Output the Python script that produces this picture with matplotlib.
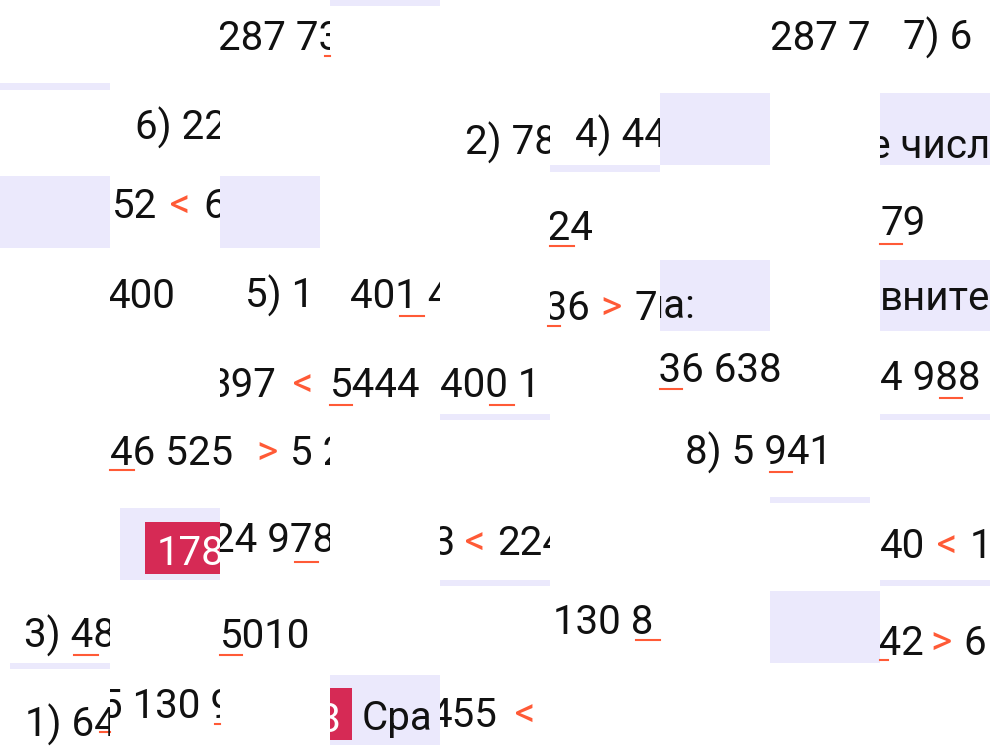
import matplotlib.pyplot as plt
from matplotlib.patches import Rectangle
from matplotlib.transforms import Bbox, TransformedBbox

plt.rcParams['font.family'] = ['Roboto', 'DejaVu Sans']

BLACK = '#111111'
RED = '#ff5a36'
WHITE = '#ffffff'
LAV = '#ebe9fc'
CRIM = '#d62a55'

# background rectangles: x, y, w, h, colour
boxes = [
    (0, 83, 110, 7, LAV), (0, 176, 110, 72, LAV), (220, 176, 100, 72, LAV),
    (330, 0, 110, 6, LAV), (440, 414, 110, 6, LAV), (550, 165, 110, 7, LAV),
    (660, 93, 110, 72, LAV), (660, 260, 110, 71, LAV), (880, 93, 110, 72, LAV),
    (880, 260, 110, 71, LAV), (880, 414, 110, 6, LAV), (770, 497, 100, 6, LAV),
    (440, 580, 110, 6, LAV), (880, 580, 110, 6, LAV), (770, 591, 110, 72, LAV),
    (120, 508, 100, 72, LAV), (145, 522, 75, 52, CRIM), (10, 663, 100, 6, LAV),
    (330, 675, 110, 70, LAV), (330, 688, 22, 52, CRIM),
]

# text pieces: x, baseline, text, colour, clip left, clip right
pieces = [
    (218, 50, '287 73', BLACK, 220, 330),
    (135, 140, '6) 22', BLACK, 110, 220),
    (112, 218, '52', BLACK, 110, 220), (170, 218, '<', RED, 110, 220), (203, 218, '6', BLACK, 110, 220),
    (108, 308, '400', BLACK, 110, 220),
    (245, 308, '5) 1', BLACK, 220, 330),
    (350, 308, '401 4', BLACK, 330, 440),
    (208, 397, '397', BLACK, 220, 330), (293, 397, '<', RED, 220, 330),
    (330, 397, '5444', BLACK, 330, 440),
    (440, 397, '400 1', BLACK, 440, 550),
    (110, 465, '46 525', BLACK, 110, 330), (256, 465, '>', RED, 110, 330), (290, 465, '5 2', BLACK, 110, 330),
    (157, 565, '178', WHITE, 145, 220),
    (212, 552, '24 978', BLACK, 220, 330),
    (24, 648, '3) 48', BLACK, 0, 110),
    (220, 648, '5010', BLACK, 220, 330),
    (100, 718, '5 130 9', BLACK, 110, 220),
    (25, 737, '1) 64', BLACK, 0, 110),
    (318, 732, '8', WHITE, 330, 352),
    (362, 730, 'Сра', BLACK, 352, 440),
    (430, 727, '455', BLACK, 440, 550), (515, 727, '<', RED, 440, 550),
    (465, 155, '2) 78', BLACK, 440, 550),
    (575, 148, '4) 44', BLACK, 550, 660),
    (525, 240, '224', BLACK, 550, 660),
    (523, 320, '136', BLACK, 550, 660), (600, 320, '>', RED, 550, 660), (634, 320, '7', BLACK, 550, 660),
    (640, 318, 'ла:', BLACK, 660, 770),
    (636, 382, '136 638', BLACK, 660, 800),
    (685, 465, '8) 5 941', BLACK, 660, 870),
    (410, 555, '23', BLACK, 440, 550), (465, 555, '<', RED, 440, 550), (497, 555, '224', BLACK, 440, 550),
    (553, 634, '130 8', BLACK, 550, 660),
    (770, 50, '287 7', BLACK, 770, 880),
    (903, 50, '7) 6', BLACK, 880, 990),
    (838, 158, 'ые числ', BLACK, 880, 990),
    (880, 235, '79', BLACK, 880, 990),
    (880, 310, 'внитель', BLACK, 880, 990),
    (880, 390, '4 988', BLACK, 880, 990),
    (880, 558, '40', BLACK, 880, 990), (937, 558, '<', RED, 880, 990), (970, 558, '1', BLACK, 880, 990),
    (857, 655, '142', BLACK, 880, 990), (930, 655, '>', RED, 880, 990), (963, 655, '6', BLACK, 880, 990),
]

# red underlines: x0, x1, y
unders = [
    (325, 330, 56), (400, 424, 316), (330, 352, 405), (490, 514, 405),
    (110, 134, 470), (295, 318, 562), (74, 98, 655), (220, 242, 655),
    (100, 110, 732), (215, 220, 724), (550, 574, 246), (548, 560, 326),
    (660, 682, 389), (770, 792, 472), (636, 660, 640), (880, 902, 244),
    (940, 962, 398), (880, 888, 660),
]

fig = plt.figure(figsize=(9.95, 7.55), dpi=100)
ax = fig.add_axes([0, 0, 1, 1])
ax.set_xlim(0, 995)
ax.set_ylim(755, 0)
ax.axis('off')

for x, y, w, h, c in boxes:
    ax.add_patch(Rectangle((x, y), w, h, color=c, lw=0))

for x, y, s, c, c0, c1 in pieces:
    t = ax.text(x, y, s, color=c, fontsize=29, va='baseline', ha='left')
    t.set_clip_box(TransformedBbox(Bbox([[c0, y - 60], [c1, y + 20]]), ax.transData))
    t.set_clip_on(True)

for x0, x1, y in unders:
    ax.plot([x0, x1], [y, y], color=RED, lw=1.5)

fig.savefig('out.png', dpi=100)
